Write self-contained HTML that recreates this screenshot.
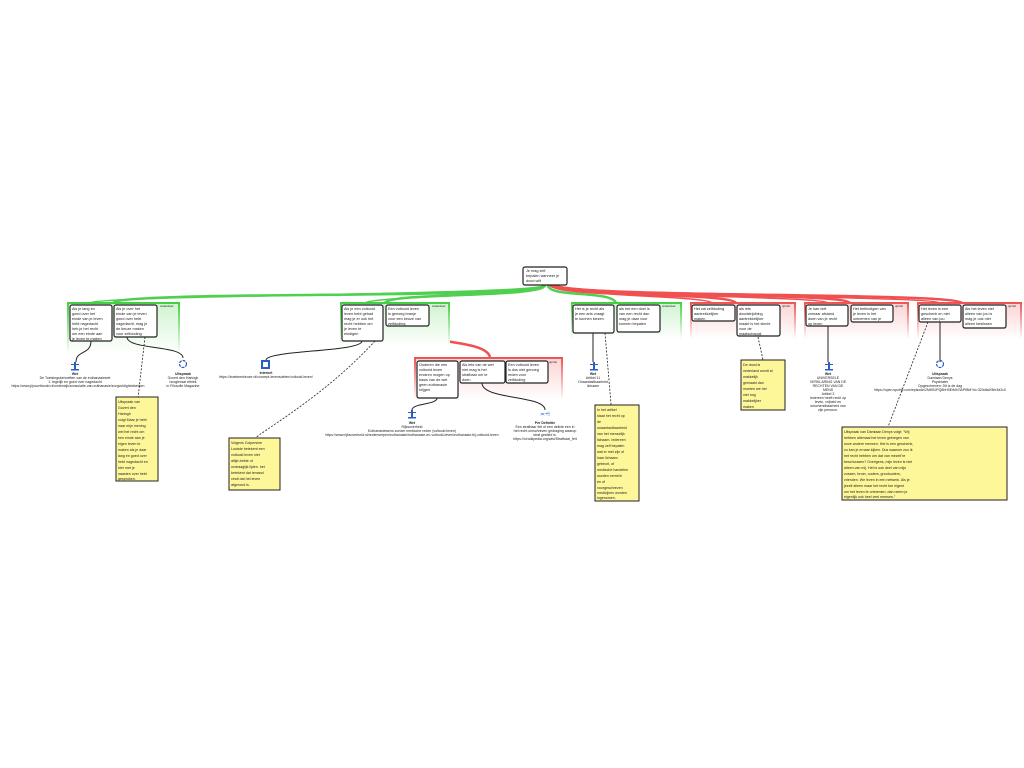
<!DOCTYPE html>
<html><head><meta charset="utf-8"><style>
html,body{margin:0;padding:0;background:#fff;width:1024px;height:768px;overflow:hidden}
svg text{font-family:"Liberation Sans",sans-serif;font-size:3.8px;fill:#222}
.b{fill:#fff;stroke:#222;stroke-width:1.2}
.n{fill:#fdf79a;stroke:#222;stroke-width:1}
.c{fill:none;stroke:#222;stroke-width:1}
.d{fill:none;stroke:#222;stroke-width:.8;stroke-dasharray:2,1.5}
.lb{font-weight:bold;text-anchor:middle}
.ct{text-anchor:middle}
.nt text{font-size:3.6px}
</style></head><body>
<svg width="1024" height="768" viewBox="0 0 1024 768">
<defs>
<linearGradient id="gg" x1="0" y1="0" x2="0" y2="1"><stop offset="0" stop-color="#3fcf3f"/><stop offset="1" stop-color="#fff"/></linearGradient>
<linearGradient id="rg" x1="0" y1="0" x2="0" y2="1"><stop offset="0" stop-color="#f05050"/><stop offset="1" stop-color="#fff"/></linearGradient>
</defs>
<g fill="none" stroke-width="2.5">
<path d="M545 285 C545 300 120 290 113 303" stroke="#4fd04f"/>
<path d="M545 285 C545 295 95 295 90 303" stroke="#4fd04f" stroke-width="1.5"/>
<path d="M545 285 C545 298 390 292 385 303" stroke="#4fd04f"/>
<path d="M545 285 C545 296 370 296 365 303" stroke="#4fd04f" stroke-width="1.5"/>
<path d="M548 285 C548 298 612 290 616 303" stroke="#4fd04f"/>
<path d="M550 285 C560 298 730 292 736 303" stroke="#f05050"/>
<path d="M550 285 C560 296 710 296 712 303" stroke="#f05050" stroke-width="1.5"/>
<path d="M552 285 C565 298 845 292 850 303" stroke="#f05050"/>
<path d="M552 285 C565 296 825 296 828 303" stroke="#f05050" stroke-width="1.5"/>
<path d="M554 285 C570 298 955 292 962 303" stroke="#f05050"/>
<path d="M554 285 C570 296 938 296 940 303" stroke="#f05050" stroke-width="1.5"/>
<path d="M408 326 C412 345 485 338 490 357" stroke="#f05050"/>
</g>
<rect x="67" y="302" width="113" height="52" fill="url(#gg)"/><rect x="69" y="304" width="109" height="50" fill="#fff" opacity=".75"/>
<rect x="340" y="302" width="110" height="45" fill="url(#gg)"/><rect x="342" y="304" width="106" height="43" fill="#fff" opacity=".75"/>
<rect x="571" y="302" width="111" height="37" fill="url(#gg)"/><rect x="573" y="304" width="107" height="35" fill="#fff" opacity=".75"/>
<rect x="414" y="357" width="149" height="43" fill="url(#rg)"/><rect x="416" y="359" width="145" height="41" fill="#fff" opacity=".75"/>
<rect x="690" y="302" width="106" height="37" fill="url(#rg)"/><rect x="692" y="304" width="102" height="35" fill="#fff" opacity=".75"/>
<rect x="804" y="302" width="105" height="37" fill="url(#rg)"/><rect x="806" y="304" width="101" height="35" fill="#fff" opacity=".75"/>
<rect x="917" y="302" width="105" height="37" fill="url(#rg)"/><rect x="919" y="304" width="101" height="35" fill="#fff" opacity=".75"/>
<g><text x="160" y="307" style="font-size:3px">onderdeel</text><text x="432" y="307" style="font-size:3px">onderdeel</text><text x="662" y="307" style="font-size:3px">onderdeel</text>
<text x="549" y="363" style="font-size:3px">ujnrist</text><text x="782" y="307" style="font-size:3px">ujnrist</text><text x="895" y="307" style="font-size:3px">ujnrist</text><text x="1008" y="307" style="font-size:3px">ujnrist</text></g>
<rect class="b" x="523" y="267" width="44" height="18" rx="2"/>
<text x="526" y="272">Je mag zelf</text><text x="526" y="277">bepalen wanneer je</text><text x="526" y="282">dood wilt</text>
<rect class="b" x="70" y="305" width="42" height="36" rx="2"/>
<text x="72" y="310">Als je lang en</text><text x="72" y="315">goed over het</text><text x="72" y="320">einde van je leven</text><text x="72" y="325">hebt nagedacht</text><text x="72" y="330">heb je het recht</text><text x="72" y="335">om een einde aan</text><text x="72" y="340">je leven te maken</text>
<rect class="b" x="114" y="305" width="43" height="32" rx="2"/>
<text x="116" y="310">Als je over het</text><text x="116" y="315">einde van je leven</text><text x="116" y="320">goed over hebt</text><text x="116" y="325">nagedacht, mag je</text><text x="116" y="330">de keuze maken</text><text x="116" y="335">voor zelfdoding</text>
<rect class="b" x="342" y="305" width="41" height="36" rx="2"/>
<text x="344" y="310">Als je een voltooid</text><text x="344" y="315">leven hebt gehad</text><text x="344" y="320">mag je er ook het</text><text x="344" y="325">recht hebben om</text><text x="344" y="330">je leven te</text><text x="344" y="335">eindigen</text>
<rect class="b" x="386" y="305" width="43" height="21" rx="2"/>
<text x="388" y="310">Een voltooid leven</text><text x="388" y="315">is genoeg branje</text><text x="388" y="320">voor een keuze van</text><text x="388" y="325">zelfdoding.</text>
<rect class="b" x="417" y="361" width="41" height="37" rx="2"/>
<text x="419" y="366">Ouderen die een</text><text x="419" y="371">voltooid leven</text><text x="419" y="376">ervaren mogen op</text><text x="419" y="381">basis van de wet</text><text x="419" y="386">geen euthanasie</text><text x="419" y="391">krijgen</text>
<rect class="b" x="460" y="361" width="45" height="22" rx="2"/>
<text x="462" y="366">Als iets van de wet</text><text x="462" y="371">niet mag is het</text><text x="462" y="376">strafbaar om te</text><text x="462" y="381">doen</text>
<rect class="b" x="506" y="361" width="42" height="22" rx="2"/>
<text x="508" y="366">Een voltooid leven</text><text x="508" y="371">is dus niet genoeg</text><text x="508" y="376">reden voor</text><text x="508" y="381">zelfdoding</text>
<rect class="b" x="573" y="305" width="41" height="28" rx="2"/>
<text x="575" y="310">Het is je recht als</text><text x="575" y="315">je een arts vraagt</text><text x="575" y="320">te kunnen kiezen</text>
<rect class="b" x="617" y="305" width="43" height="27" rx="2"/>
<text x="619" y="310">als het een doel is</text><text x="619" y="315">van een recht dan</text><text x="619" y="320">mag je daar voor</text><text x="619" y="325">kunnen bepalen</text>
<rect class="b" x="692" y="305" width="43" height="16" rx="2"/>
<text x="694" y="310">Het zal zelfdoding</text><text x="694" y="315">aantrekkelijker</text><text x="694" y="320">maken</text>
<rect class="b" x="737" y="305" width="43" height="31" rx="2"/>
<text x="739" y="310">als iets</text><text x="739" y="315">doodstrijdbing</text><text x="739" y="320">aantrekkelijker</text><text x="739" y="325">maakt is het slecht</text><text x="739" y="330">voor de</text><text x="739" y="335">maatschappij</text>
<rect class="b" x="806" y="305" width="42" height="21" rx="2"/>
<text x="808" y="310">Je kan niet</text><text x="808" y="315">zomaar afstand</text><text x="808" y="320">doen van je recht</text><text x="808" y="325">op leven</text>
<rect class="b" x="851" y="305" width="42" height="17" rx="2"/>
<text x="853" y="310">Het beëindigen van</text><text x="853" y="315">je leven is het</text><text x="853" y="320">ontnemen van je</text>
<rect class="b" x="919" y="305" width="42" height="17" rx="2"/>
<text x="921" y="310">Het leven is een</text><text x="921" y="315">geschenk en niet</text><text x="921" y="320">alleen van jou</text>
<rect class="b" x="963" y="305" width="43" height="23" rx="2"/>
<text x="965" y="310">Als het leven niet</text><text x="965" y="315">alleen van jou is</text><text x="965" y="320">mag je ook niet</text><text x="965" y="325">alleen beslissen</text>
<path class="c" d="M91 341 C91 355 76 350 76 362"/>
<path class="c" d="M127 337 C127 350 183 345 183 358"/>
<path class="c" d="M362 341 C362 352 267 350 266 360"/>
<path class="c" d="M437 398 C437 405 412 403 412 410"/>
<path class="c" d="M482 383 C482 400 545 395 545 410"/>
<path class="c" d="M593 333 L593 362"/>
<path class="c" d="M828 326 L828 362"/>
<path class="c" d="M940 322 L940 362"/>
<path class="d" d="M145 337 L138 398"/>
<path class="d" d="M375 341 C330 390 280 420 255 438"/>
<path class="d" d="M605 333 L618 487"/>
<path class="d" d="M758 337 L763 360"/>
<path class="d" d="M928 322 L888 427"/>
<g fill="#2a5cc8">
<rect x="74" y="362" width="2" height="8"/><rect x="71" y="369" width="8" height="1.5"/><rect x="71" y="364" width="8" height="1"/>
<circle cx="183" cy="364" r="3.5" fill="none" stroke="#2a5cc8" stroke-width="1.2" stroke-dasharray="3,1"/>
<rect x="261" y="360" width="9" height="9"/><rect x="263" y="362" width="5" height="5" fill="#fff"/>
<rect x="411" y="410" width="2" height="8"/><rect x="408" y="417" width="8" height="1.5"/><rect x="408" y="412" width="8" height="1"/>
<text x="540" y="416" style="fill:#2a5cc8;font-size:6px">≍⩤</text>
<rect x="593" y="362" width="2" height="8"/><rect x="590" y="369" width="8" height="1.5"/><rect x="590" y="364" width="8" height="1"/>
<rect x="828" y="362" width="2" height="8"/><rect x="825" y="369" width="8" height="1.5"/><rect x="825" y="364" width="8" height="1"/>
<circle cx="940" cy="364" r="3.5" fill="none" stroke="#2a5cc8" stroke-width="1.2" stroke-dasharray="3,1"/>
</g>
<g>
<text class="lb" x="75" y="375" style="font-size:3.5px">Wet</text>
<text class="ct" x="75" y="379" style="font-size:3.5px">De Toetsingsbehoeften van de euthanasiewet</text>
<text class="ct" x="75" y="383" style="font-size:3.5px">1. tegelijk en goed over nagedacht</text>
<text class="ct" x="78" y="387" style="font-size:3.5px">https://www.jijnoorthootd.nl/onderwijs/sonsulatie-van-euthanasie/zorgvuldigheidseisen</text>
<text class="lb" x="183" y="375" style="font-size:3.5px">Uitspraak</text>
<text class="ct" x="183" y="379" style="font-size:3.5px">Govert den Hartogh</text>
<text class="ct" x="183" y="383" style="font-size:3.5px">hoogleraar ethiek</text>
<text class="ct" x="183" y="387" style="font-size:3.5px">in Filosofie Magazine</text>
<text class="lb" x="266" y="374" style="font-size:3.5px">Internet</text>
<text class="ct" x="266" y="378" style="font-size:3.5px">https://boekeenkeuze.nl/concept-levensdelen/voltooid-leven/</text>
<text class="lb" x="412" y="424" style="font-size:3.5px">Wet</text>
<text class="ct" x="412" y="428" style="font-size:3.5px">Rijksoverheid</text>
<text class="ct" x="412" y="432" style="font-size:3.5px">Euthanasiewens zonder medische reden (voltooid leven)</text>
<text class="ct" x="412" y="436" style="font-size:3.5px">https://www.rijksoverheid.nl/onderwerpen/euthanasie/euthanasie-en-voltooid-leven/euthanasie-bij-voltooid-leven</text>
<text class="lb" x="545" y="424" style="font-size:3.5px">Per Definitie</text>
<text class="ct" x="545" y="428" style="font-size:3.5px">Een strafbaar feit of een delicte een in</text>
<text class="ct" x="545" y="432" style="font-size:3.5px">het recht omschreven gedraging waarop</text>
<text class="ct" x="545" y="436" style="font-size:3.5px">straf gesteld is.</text>
<text class="ct" x="545" y="440" style="font-size:3.5px">https://nl.wikipedia.org/wiki/Strafbaar_feit</text>
<text class="lb" x="593" y="375" style="font-size:3.5px">Wet</text>
<text class="ct" x="593" y="379" style="font-size:3.5px">Artikel 11</text>
<text class="ct" x="593" y="383" style="font-size:3.5px">Onaantastbaarheid</text>
<text class="ct" x="593" y="387" style="font-size:3.5px">lichaam</text>
<text class="lb" x="828" y="375" style="font-size:3.5px">Wet</text>
<text class="ct" x="828" y="379" style="font-size:3.5px">UNIVERSELE</text>
<text class="ct" x="828" y="383" style="font-size:3.5px">VERKLARING VAN DE</text>
<text class="ct" x="828" y="387" style="font-size:3.5px">RECHTEN VAN DE</text>
<text class="ct" x="828" y="391" style="font-size:3.5px">MENS</text>
<text class="ct" x="828" y="395" style="font-size:3.5px">Artikel 3</text>
<text class="ct" x="828" y="399" style="font-size:3.5px">Iedereen heeft recht op</text>
<text class="ct" x="828" y="403" style="font-size:3.5px">leven, vrijheid en</text>
<text class="ct" x="828" y="407" style="font-size:3.5px">onschendbaarheid van</text>
<text class="ct" x="828" y="411" style="font-size:3.5px">zijn persoon.</text>
<text class="lb" x="940" y="375" style="font-size:3.5px">Uitspraak</text>
<text class="ct" x="940" y="379" style="font-size:3.5px">Damiaan Denys</text>
<text class="ct" x="940" y="383" style="font-size:3.5px">Psychiater</text>
<text class="ct" x="940" y="387" style="font-size:3.5px">Opgeschreven: Dit is de dag</text>
<text class="ct" x="940" y="391" style="font-size:3.5px">https://open.spotify.com/episode/2MKBJPQ8hH0EiMh7lAPIBM?si=320dfa2f4fe3d2c0</text>
</g>
<g class="nt">
<rect class="n" x="116" y="397" width="42" height="84"/>
<text x="118" y="403">Uitspraak van</text><text x="118" y="409">Govert den</text><text x="118" y="415">Hartogh</text><text x="118" y="421">volgt Maar je hebt</text><text x="118" y="427">naar mijn mening</text><text x="118" y="433">wel het recht om</text><text x="118" y="439">een einde aan je</text><text x="118" y="445">eigen leven te</text><text x="118" y="451">maken als je daar</text><text x="118" y="457">lang en goed over</text><text x="118" y="463">hebt nagedacht en</text><text x="118" y="469">hier met je</text><text x="118" y="475">naasten over hebt</text><text x="118" y="480">gesproken.</text>
<rect class="n" x="229" y="438" width="51" height="52"/>
<text x="231" y="444">Volgens Colpersine</text><text x="231" y="450">Loutste betekent een</text><text x="231" y="456">voltooid leven niet</text><text x="231" y="462">altijd ziekte of</text><text x="231" y="468">ondraaglijk lijden. het</text><text x="231" y="474">betekent dat iemand</text><text x="231" y="480">vindt dat het leven</text><text x="231" y="486">afgerond is.</text>
<rect class="n" x="595" y="405" width="44" height="96"/>
<text x="597" y="411">In het artikel</text><text x="597" y="417">staat het recht op</text><text x="597" y="423">de</text><text x="597" y="429">onaantastbaarheid</text><text x="597" y="435">van het menselijk</text><text x="597" y="441">lichaam. Iedereen</text><text x="597" y="447">mag zelf bepalen</text><text x="597" y="453">wat er met zijn of</text><text x="597" y="459">haar lichaam</text><text x="597" y="465">gebeurt, of</text><text x="597" y="471">medische handelen</text><text x="597" y="477">worden verricht</text><text x="597" y="483">en of</text><text x="597" y="489">voorgeschreven</text><text x="597" y="494">medicijnen worden</text><text x="597" y="499">ingenomen.</text>
<rect class="n" x="741" y="360" width="44" height="50"/>
<text x="743" y="366">De dood is</text><text x="743" y="372">nederland wordt al</text><text x="743" y="378">makkelijk</text><text x="743" y="384">gemaakt dan</text><text x="743" y="390">moeten we het</text><text x="743" y="396">niet nog</text><text x="743" y="402">makkelijker</text><text x="743" y="408">maken</text>
<rect class="n" x="842" y="427" width="165" height="73"/>
<text x="844" y="433">Uitspraak van Damiaan Denys volgt: "Wij</text><text x="844" y="439">hebben allemaal het leven gekregen van</text><text x="844" y="445">onze andere mensen. Het is een geschenk,</text><text x="844" y="451">zo kan je ernaar kijken. Dus waarom zou ik</text><text x="844" y="457">het recht hebben om dat van mezelf te</text><text x="844" y="463">beschouwen? Overigens, mijn leven is niet</text><text x="844" y="469">alleen van mij. Het is ook deel van mijn</text><text x="844" y="475">zussen, broer, ouders, grootouders,</text><text x="844" y="481">vrienden. We leven in een netwerk. Als je</text><text x="844" y="487">jezelf alleen maar het recht toe eigent</text><text x="844" y="493">om het leven te ontnemen, dan neem je</text><text x="844" y="498">eigenlijk ook heel veel mensen."</text>
</g>
</svg>
</body></html>
